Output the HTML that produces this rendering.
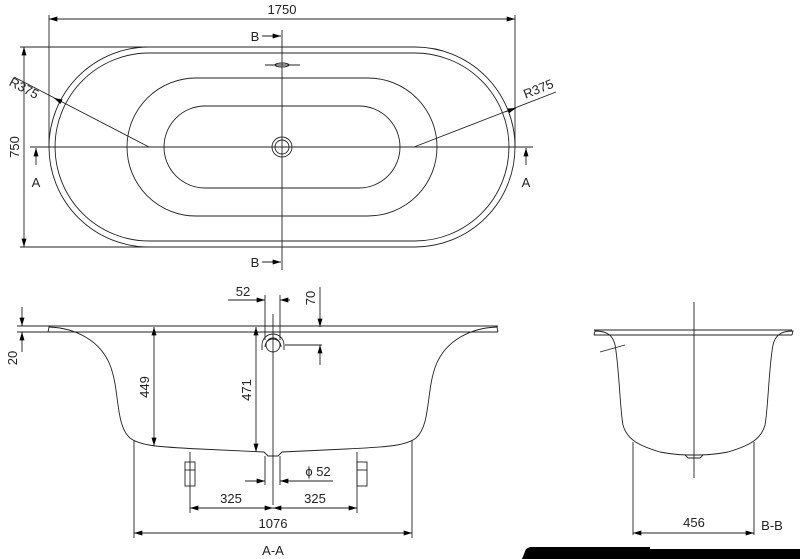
<!DOCTYPE html>
<html><head><style>
html,body{margin:0;padding:0;background:#fff;}
svg{display:block;}
text{font-family:"Liberation Sans",sans-serif;font-size:13px;fill:#222;}
</style></head><body>
<svg width="800" height="559" viewBox="0 0 800 559" xmlns="http://www.w3.org/2000/svg">
<defs>
<marker id="a" viewBox="0 0 10 6" refX="10" refY="3" markerWidth="10" markerHeight="5" orient="auto-start-reverse" markerUnits="userSpaceOnUse"><path d="M0,0L10,3L0,6z" fill="#000"/></marker>
</defs>
<g fill="none" stroke="#222" stroke-width="0.9">
<!-- top view -->
<path d="M149,47 H415 A100,100 0 0 1 415,247 H149 A100,100 0 0 1 149,47 Z"/>
<path d="M149,53 H415 A94,94 0 0 1 415,241 H149 A94,94 0 0 1 149,53 Z"/>
<path d="M196,78 H368 A69,69 0 0 1 368,216 H196 A69,69 0 0 1 196,78 Z"/>
<path d="M205,106 H359 A41,41 0 0 1 359,188 H205 A41,41 0 0 1 205,106 Z"/>
<circle cx="282" cy="147" r="10"/><circle cx="282" cy="147" r="7"/>
<line x1="282" y1="30" x2="282" y2="270"/>
<line x1="30" y1="147" x2="533" y2="147"/>
<line x1="265" y1="65" x2="300" y2="65"/>
<ellipse cx="282" cy="65" rx="7" ry="2"/>
<!-- 1750 -->
<line x1="49" y1="15" x2="49" y2="147"/><line x1="515" y1="15" x2="515" y2="147"/>
<line x1="49" y1="19" x2="515" y2="19" marker-start="url(#a)" marker-end="url(#a)"/>
<!-- 750 -->
<line x1="20" y1="47" x2="282" y2="47"/><line x1="20" y1="247" x2="282" y2="247"/>
<line x1="24" y1="47" x2="24" y2="247" marker-start="url(#a)" marker-end="url(#a)"/>
<!-- R375 -->
<line x1="14" y1="77" x2="149" y2="147"/>
<line x1="62" y1="102" x2="54" y2="98" marker-end="url(#a)"/>
<line x1="414" y1="147" x2="556" y2="92"/>
<line x1="505" y1="112" x2="516" y2="108" marker-end="url(#a)"/>
<!-- A arrows -->
<line x1="36" y1="165" x2="36" y2="148" marker-end="url(#a)"/>
<line x1="526" y1="165" x2="526" y2="148" marker-end="url(#a)"/>
<!-- B arrows -->
<line x1="262" y1="36" x2="281" y2="36" marker-end="url(#a)"/>
<line x1="262" y1="262" x2="281" y2="262" marker-end="url(#a)"/>

<!-- Section A-A -->
<line x1="48" y1="326" x2="498" y2="326"/>
<line x1="48" y1="332" x2="498" y2="332"/>
<path d="M48,332 L49,327 C75,328 100,340 110,365 C120,390 115,425 130,438 C140,446 160,447 200,449 L264,452 L268,456 L278,456 L282,452 L346,449 C386,447 406,446 416,438 C431,425 426,390 436,365 C446,340 471,328 497,327 L498,332"/>
<line x1="273" y1="314" x2="273" y2="505"/>
<circle cx="273" cy="345" r="7"/>
<path d="M262,350 V345 A11,11 0 0 1 284,345 V350"/>
<path d="M265,347 A8,8 0 0 1 281,347" />
<!-- 52 top -->
<line x1="265" y1="295" x2="265" y2="340"/><line x1="280" y1="295" x2="280" y2="340"/>
<line x1="228" y1="300" x2="265" y2="300" marker-end="url(#a)"/>
<line x1="290" y1="300" x2="280" y2="300" marker-end="url(#a)"/>
<!-- 70 -->
<line x1="285" y1="345" x2="322" y2="345"/>
<line x1="320" y1="287" x2="320" y2="327" marker-end="url(#a)"/>
<line x1="320" y1="365" x2="320" y2="345" marker-end="url(#a)"/>
<!-- 20 -->
<line x1="17" y1="326" x2="48" y2="326"/><line x1="17" y1="332" x2="48" y2="332"/>
<line x1="22" y1="307" x2="22" y2="326" marker-end="url(#a)"/>
<line x1="22" y1="352" x2="22" y2="332" marker-end="url(#a)"/>
<!-- 449, 471 -->
<line x1="154" y1="327" x2="154" y2="446" marker-start="url(#a)" marker-end="url(#a)"/>
<line x1="256" y1="327" x2="256" y2="452" marker-start="url(#a)" marker-end="url(#a)"/>
<!-- drain pipe -->
<line x1="265" y1="456" x2="265" y2="485"/><line x1="280" y1="456" x2="280" y2="485"/>
<line x1="245" y1="481" x2="265" y2="481" marker-end="url(#a)"/>
<line x1="333" y1="481" x2="280" y2="481" marker-end="url(#a)"/>
<!-- feet -->
<rect x="185" y="462" width="10" height="24"/><line x1="185" y1="470" x2="195" y2="470"/>
<rect x="357" y="462" width="10" height="24"/><line x1="357" y1="470" x2="367" y2="470"/>
<line x1="190" y1="452" x2="190" y2="513"/><line x1="357" y1="452" x2="357" y2="513"/>
<line x1="190" y1="508" x2="273" y2="508" marker-start="url(#a)" marker-end="url(#a)"/>
<line x1="273" y1="508" x2="357" y2="508" marker-start="url(#a)" marker-end="url(#a)"/>
<!-- 1076 -->
<line x1="134" y1="440" x2="134" y2="538"/><line x1="412" y1="440" x2="412" y2="538"/>
<line x1="134" y1="533" x2="412" y2="533" marker-start="url(#a)" marker-end="url(#a)"/>

<!-- Section B-B -->
<line x1="594" y1="330" x2="792" y2="330"/>
<line x1="594" y1="335" x2="792" y2="335"/>
<path d="M594,335 L595,331 C608,331 613,336 615,345 C619,365 620,410 623,425 C627,440 640,446 660,452 C675,455 685,455 694,455 C703,455 713,455 728,452 C748,446 761,440 765,425 C768,410 769,365 773,345 C775,336 780,331 793,331 L792,335"/>
<path d="M685,455 L688,458 L700,458 L703,455"/>
<line x1="694" y1="302" x2="694" y2="478"/>
<line x1="600" y1="352" x2="625" y2="345"/>
<line x1="633" y1="442" x2="633" y2="535"/><line x1="754" y1="442" x2="754" y2="535"/>
<line x1="633" y1="533" x2="754" y2="533" marker-start="url(#a)" marker-end="url(#a)"/>
</g>
<!-- texts -->
<text x="282" y="14" text-anchor="middle">1750</text>
<text transform="translate(19,147) rotate(-90)" text-anchor="middle">750</text>
<text transform="translate(22,92) rotate(28)" text-anchor="middle" font-size="12">R375</text>
<text transform="translate(540,93) rotate(-22)" text-anchor="middle" font-size="12">R375</text>
<text x="36" y="187" text-anchor="middle">A</text>
<text x="526" y="187" text-anchor="middle">A</text>
<text x="255" y="41" text-anchor="middle" font-size="14">B</text>
<text x="255" y="267" text-anchor="middle" font-size="14">B</text>
<text x="243" y="296" text-anchor="middle">52</text>
<text transform="translate(315,298) rotate(-90)" text-anchor="middle">70</text>
<text transform="translate(17,358) rotate(-90)" text-anchor="middle">20</text>
<text transform="translate(149,387) rotate(-90)" text-anchor="middle">449</text>
<text transform="translate(251,390) rotate(-90)" text-anchor="middle">471</text>
<text x="318" y="476" text-anchor="middle">ϕ 52</text>
<text x="231" y="503" text-anchor="middle">325</text>
<text x="315" y="503" text-anchor="middle">325</text>
<text x="273" y="528" text-anchor="middle">1076</text>
<text x="273" y="555" text-anchor="middle" font-size="15">A-A</text>
<text x="694" y="527" text-anchor="middle">456</text>
<text x="772" y="530" text-anchor="middle" font-size="15">B-B</text>
<path d="M522,559 L526,549 L530,547 L650,547 L650,549 L800,549 L800,559 Z" fill="#000"/>
</svg>
</body></html>
